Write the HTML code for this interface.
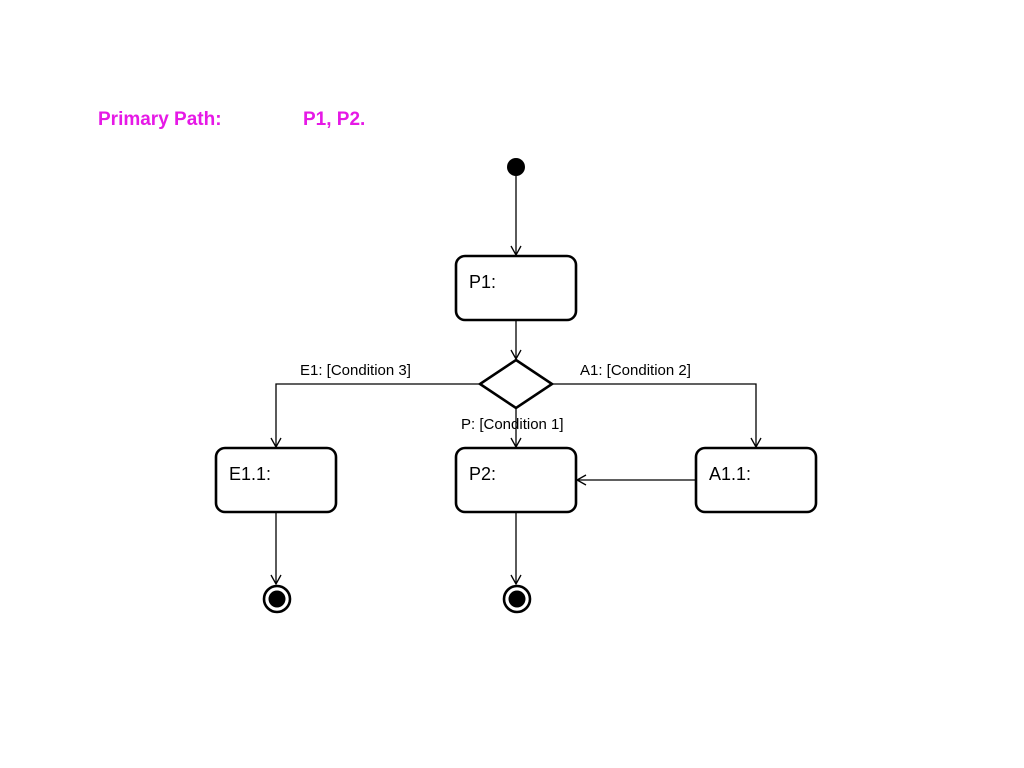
<!DOCTYPE html>
<html><head><meta charset="utf-8"><style>
html,body{margin:0;padding:0;background:#fff;}
svg{display:block;}
text{font-family:"Liberation Sans",sans-serif;}
</style></head><body>
<svg width="1024" height="768" viewBox="0 0 1024 768" xmlns="http://www.w3.org/2000/svg">
<defs>
<marker id="a" markerWidth="12" markerHeight="12" refX="10" refY="6" orient="auto" markerUnits="userSpaceOnUse">
<path d="M1,1 L10,6 L1,11" fill="none" stroke="#000" stroke-width="1.3"/>
</marker>
</defs>
<text x="98" y="125" font-size="19" font-weight="bold" fill="#e619e6">Primary Path:</text>
<text x="303" y="125" font-size="19" font-weight="bold" fill="#e619e6">P1, P2.</text>
<circle cx="516" cy="167" r="9" fill="#000"/>
<g stroke="#000" stroke-width="1.3" fill="none">
<line x1="516" y1="176" x2="516" y2="255" marker-end="url(#a)"/>
<line x1="516" y1="320" x2="516" y2="359" marker-end="url(#a)"/>
<polyline points="480,384 276,384 276,447" marker-end="url(#a)"/>
<polyline points="552,384 756,384 756,447" marker-end="url(#a)"/>
<line x1="516" y1="408" x2="516" y2="447" marker-end="url(#a)"/>
<line x1="696" y1="480" x2="577" y2="480" marker-end="url(#a)"/>
<line x1="276" y1="512" x2="276" y2="584" marker-end="url(#a)"/>
<line x1="516" y1="512" x2="516" y2="584" marker-end="url(#a)"/>
</g>
<g stroke="#000" stroke-width="2.6" fill="#fff">
<rect x="456" y="256" width="120" height="64" rx="9"/>
<polygon points="516,360 552,384 516,408 480,384"/>
<rect x="216" y="448" width="120" height="64" rx="9"/>
<rect x="456" y="448" width="120" height="64" rx="9"/>
<rect x="696" y="448" width="120" height="64" rx="9"/>
<circle cx="277" cy="599" r="13"/>
<circle cx="517" cy="599" r="13"/>
</g>
<circle cx="277" cy="599" r="8.5" fill="#000"/>
<circle cx="517" cy="599" r="8.5" fill="#000"/>
<g font-size="18" fill="#000">
<text x="469" y="288">P1:</text>
<text x="229" y="480">E1.1:</text>
<text x="469" y="480">P2:</text>
<text x="709" y="480">A1.1:</text>
</g>
<g font-size="15" fill="#000">
<text x="300" y="375">E1: [Condition 3]</text>
<text x="580" y="375">A1: [Condition 2]</text>
<text x="461" y="429">P: [Condition 1]</text>
</g>
</svg>
</body></html>
